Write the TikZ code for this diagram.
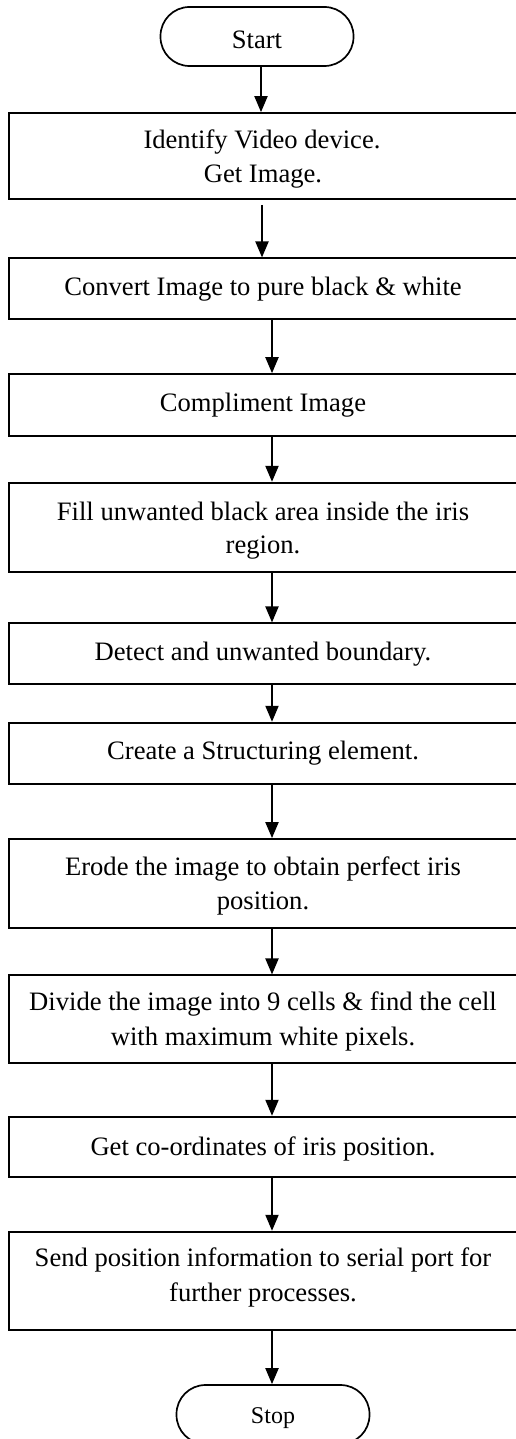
\documentclass[tikz,border=0pt]{standalone}
\usepackage{fontspec}
\setmainfont{Liberation Serif}
\usetikzlibrary{arrows.meta}
\begin{document}
\begin{tikzpicture}[x=1pt,y=-1pt,
  box/.style={draw, line width=1.7pt, rectangle, inner sep=0pt, minimum width=508pt},
  term/.style={draw, line width=1.7pt, rectangle, rounded corners=29pt, inner sep=0pt, minimum width=193pt, minimum height=59pt},
  txt/.style={anchor=base, inner sep=0pt, font=\fontsize{26.6}{30}\selectfont},
  stxt/.style={anchor=base, inner sep=0pt, font=\fontsize{24}{28}\selectfont},
  arr/.style={line width=2pt, -{Triangle[length=16pt,width=13pt]}}]
\useasboundingbox (0,0) rectangle (516,1439);
\clip (0,0) rectangle (516,1439);
% terminals
\node[term] (start) at (257,36.5) {};
\node[term] (stop) at (273,1414.5) {};
% boxes
\node[box, minimum height=86pt]   (b1)  at (263,156) {};
\node[box, minimum height=61pt]   (b2)  at (263,288.8) {};
\node[box, minimum height=61.7pt] (b3)  at (263,404.9) {};
\node[box, minimum height=89pt]   (b4)  at (263,527.2) {};
\node[box, minimum height=61pt]   (b5)  at (263,653.8) {};
\node[box, minimum height=61.3pt] (b6)  at (263,753.3) {};
\node[box, minimum height=88.7pt] (b7)  at (263,883.3) {};
\node[box, minimum height=88pt]   (b8)  at (263,1019.3) {};
\node[box, minimum height=60.3pt] (b9)  at (263,1146.8) {};
\node[box, minimum height=98.3pt] (b10) at (263,1280.8) {};
% texts
\node[txt] (ts) at (257,48.3) {Start};
\node[stxt] (te) at (273,1423.3) {Stop};
\node[txt] (t1a) at (262,149) {Identify Video device.};
\node[txt] (t1b) at (263,183) {Get Image.};
\node[txt] (t2) at (263,295) {Convert Image to pure black \& white};
\node[txt] (t3) at (263,411) {Compliment Image};
\node[txt] (t4a) at (263,520) {Fill unwanted black area inside the iris};
\node[txt] (t4b) at (263,553.3) {region.};
\node[txt] (t5) at (263,660) {Detect and unwanted boundary.};
\node[txt] (t6) at (263,759.3) {Create a Structuring element.};
\node[txt] (t7a) at (263,875) {Erode the image to obtain perfect iris};
\node[txt] (t7b) at (263,909.3) {position.};
\node[txt] (t8a) at (263,1010.7) {Divide the image into 9 cells \& find the cell};
\node[txt] (t8b) at (263,1045) {with maximum white pixels.};
\node[txt] (t9) at (263,1155) {Get co-ordinates of iris position.};
\node[txt] (t10a) at (263,1266.7) {Send position information to serial port for};
\node[txt] (t10b) at (263,1301.7) {further processes.};
% connectors
\draw[arr] ([xshift=4pt]start.south) -- ([xshift=-2pt]b1.north);
\draw[arr] ([xshift=-1pt,yshift=-5pt]b1.south) -- ([xshift=-1pt]b2.north);
\draw[arr] ([xshift=9pt]b2.south) -- ([xshift=9pt]b3.north);
\draw[arr] ([xshift=9pt]b3.south) -- ([xshift=9pt]b4.north);
\draw[arr] ([xshift=9pt]b4.south) -- ([xshift=9pt]b5.north);
\draw[arr] ([xshift=9pt]b5.south) -- ([xshift=9pt]b6.north);
\draw[arr] ([xshift=9pt]b6.south) -- ([xshift=9pt]b7.north);
\draw[arr] ([xshift=9pt]b7.south) -- ([xshift=9pt]b8.north);
\draw[arr] ([xshift=9pt]b8.south) -- ([xshift=9pt]b9.north);
\draw[arr] ([xshift=9pt]b9.south) -- ([xshift=9pt]b10.north);
\draw[arr] ([xshift=9pt]b10.south) -- ([xshift=-1pt]stop.north);
\end{tikzpicture}
\end{document}
